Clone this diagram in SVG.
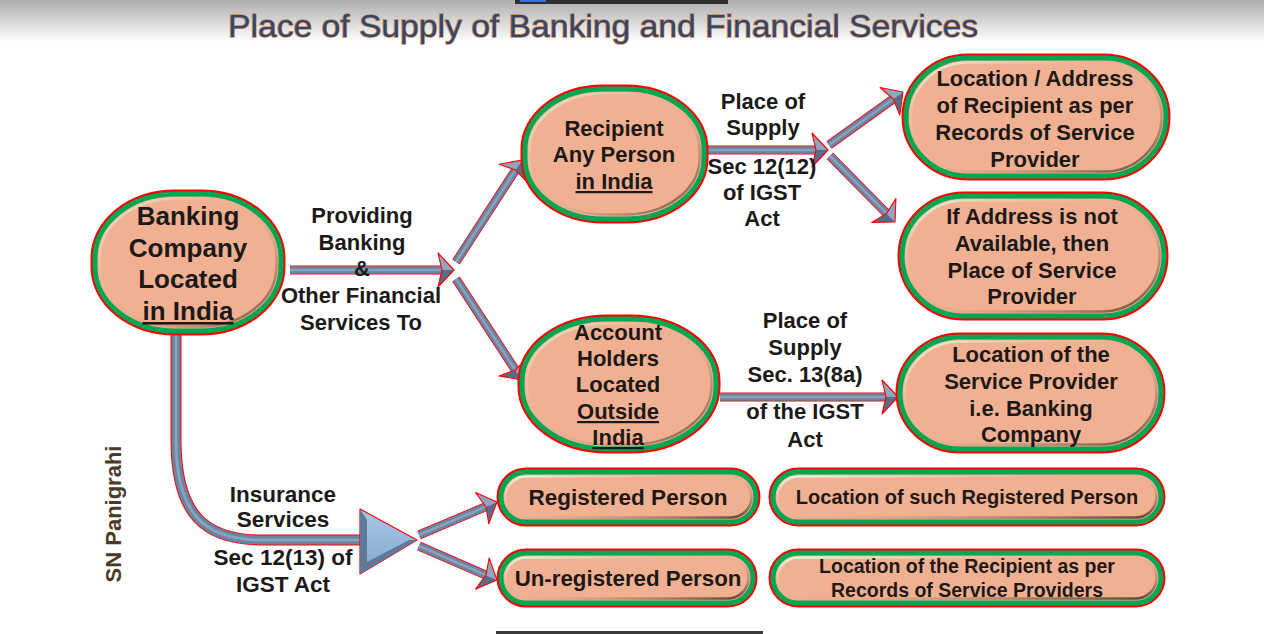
<svg xmlns="http://www.w3.org/2000/svg" width="1264" height="634" viewBox="0 0 1264 634">
<defs>
<style>
.t{font-family:"Liberation Sans",Arial,sans-serif;font-weight:bold;fill:#1c1a18;text-anchor:middle}
.r{fill:none;stroke:#ff0000;stroke-width:9}
.g{fill:#f2b092;stroke:#00a651;stroke-width:5}
.h{fill:none;stroke:url(#hl);stroke-width:2.5}
.sr{fill:none;stroke:#ff0000;stroke-width:9;stroke-linejoin:round}
.sb{fill:none;stroke:#6a83a0;stroke-width:7.5}
.sh{fill:none;stroke:#8aa1bb;stroke-width:2.5}
</style>
<linearGradient id="bg" x1="0" y1="0" x2="0" y2="1">
<stop offset="0" stop-color="#adadad"/>
<stop offset="1" stop-color="#ffffff"/>
</linearGradient>
<linearGradient id="hl" x1="0" y1="0" x2="1" y2="1">
<stop offset="0" stop-color="#d9ffe2"/>
<stop offset="0.45" stop-color="#f2b092" stop-opacity="0"/>
<stop offset="1" stop-color="#5a4232"/>
</linearGradient>
<linearGradient id="tri" x1="0" y1="0" x2="0" y2="1">
<stop offset="0" stop-color="#a9c8e7"/>
<stop offset="1" stop-color="#83a8cf"/>
</linearGradient>
<marker id="ah" markerUnits="userSpaceOnUse" viewBox="-20 -20 24 40" markerWidth="24" markerHeight="40" refX="-12" refY="0" orient="auto">
<path d="M0,0 L-16,-17 L-12,0 Z" fill="#8ea6c0"/>
<path d="M0,0 L-12,0 L-16,17 Z" fill="#566e8a"/>
<path d="M0,0 L-16,-17 L-12,0 L-16,17 Z" fill="none" stroke="#ff0000" stroke-width="1.1" stroke-linejoin="round"/>
</marker>
</defs>

<rect x="0" y="0" width="1264" height="634" fill="#ffffff"/>
<rect x="0" y="0" width="1264" height="42" fill="url(#bg)"/>
<rect x="515" y="0" width="213" height="4" fill="#2e2e2e"/>
<rect x="520" y="0" width="26" height="2" fill="#3b6fd6"/>
<rect x="496" y="631" width="267" height="3" fill="#3a3a3a"/>

<text x="603" y="37" font-family="Liberation Sans, Arial, sans-serif" font-size="32" fill="#34466a" stroke="#c98a58" stroke-width="1.4" paint-order="stroke" text-anchor="middle" textLength="750" lengthAdjust="spacingAndGlyphs">Place of Supply of Banking and Financial Services</text>

<g id="connectors">
<path class="sr" d="M290,270 L442,270"/><path class="sb" d="M290,270 L442,270"/><path class="sh" d="M290,270 L442,270" marker-end="url(#ah)"/>
<path class="sr" d="M456,262 L515.5,170.1"/><path class="sb" d="M456,262 L515.5,170.1"/><path class="sh" d="M456,262 L515.5,170.1" marker-end="url(#ah)"/>
<path class="sr" d="M456,279 L515.4,370"/><path class="sb" d="M456,279 L515.4,370"/><path class="sh" d="M456,279 L515.4,370" marker-end="url(#ah)"/>
<path class="sr" d="M708,150 L816,150"/><path class="sb" d="M708,150 L816,150"/><path class="sh" d="M708,150 L816,150" marker-end="url(#ah)"/>
<path class="sr" d="M829,145 L893.2,99"/><path class="sb" d="M829,145 L893.2,99"/><path class="sh" d="M829,145 L893.2,99" marker-end="url(#ah)"/>
<path class="sr" d="M830,156 L886.6,213.4"/><path class="sb" d="M830,156 L886.6,213.4"/><path class="sh" d="M830,156 L886.6,213.4" marker-end="url(#ah)"/>
<path class="sr" d="M720,397 L886,397"/><path class="sb" d="M720,397 L886,397"/><path class="sh" d="M720,397 L886,397" marker-end="url(#ah)"/>
<path d="M176,334 L176,440 C176,515 205,540 262,540 L362,540" fill="none" stroke="#ff0000" stroke-width="11"/>
<path d="M176,334 L176,440 C176,515 205,540 262,540 L362,540" fill="none" stroke="#6a83a0" stroke-width="9"/>
<path d="M176,334 L176,440 C176,515 205,540 262,540 L362,540" fill="none" stroke="#8aa1bb" stroke-width="3"/>
<polygon points="360,509 417,540 360,574" fill="url(#tri)" stroke="#ff0000" stroke-width="1.2" stroke-linejoin="round"/>
<polygon points="360,509 367,520 367,562 409,540 417,540 360,574" fill="#5f7a99"/>
<path class="sr" d="M419,535 L485.9,506.7"/><path class="sb" d="M419,535 L485.9,506.7"/><path class="sh" d="M419,535 L485.9,506.7" marker-end="url(#ah)"/>
<path class="sr" d="M419,546 L486,575.2"/><path class="sb" d="M419,546 L486,575.2"/><path class="sh" d="M419,546 L486,575.2" marker-end="url(#ah)"/>
</g>

<g id="node-banking">
<rect class="r" x="95" y="194" width="186" height="137" rx="80" ry="64"/>
<rect class="g" x="95" y="194" width="186" height="137" rx="80" ry="64"/>
<rect class="h" x="99.5" y="198.5" width="177" height="128" rx="76" ry="60"/>
<text class="t" font-size="26"><tspan x="188" y="225">Banking</tspan><tspan x="188" y="257">Company</tspan><tspan x="188" y="288">Located</tspan><tspan x="188" y="320" text-decoration="underline">in India</tspan></text>
</g>

<g id="node-recipient">
<rect class="r" x="525" y="89" width="179" height="130" rx="78" ry="60"/>
<rect class="g" x="525" y="89" width="179" height="130" rx="78" ry="60"/>
<rect class="h" x="529.5" y="93.5" width="170" height="121" rx="74" ry="56"/>
<text class="t" font-size="22"><tspan x="614" y="136">Recipient</tspan><tspan x="614" y="162">Any Person</tspan><tspan x="614" y="189" text-decoration="underline">in India</tspan></text>
</g>

<g id="node-account">
<rect class="r" x="522" y="319" width="194" height="130" rx="85" ry="62"/>
<rect class="g" x="522" y="319" width="194" height="130" rx="85" ry="62"/>
<rect class="h" x="526.5" y="323.5" width="185" height="121" rx="81" ry="58"/>
<text class="t" font-size="22"><tspan x="618" y="340">Account</tspan><tspan x="618" y="366">Holders</tspan><tspan x="618" y="392">Located</tspan><tspan x="618" y="419" text-decoration="underline">Outside</tspan><tspan x="618" y="445" text-decoration="underline">India</tspan></text>
</g>

<g id="node-location-address">
<rect class="r" x="906" y="58" width="260" height="118" rx="62" ry="59"/>
<rect class="g" x="906" y="58" width="260" height="118" rx="62" ry="59"/>
<rect class="h" x="910.5" y="62.5" width="251" height="109" rx="58" ry="55"/>
<text class="t" font-size="22"><tspan x="1035" y="86">Location / Address</tspan><tspan x="1035" y="113">of Recipient as per</tspan><tspan x="1035" y="140">Records of Service</tspan><tspan x="1035" y="167">Provider</tspan></text>
</g>

<g id="node-if-address">
<rect class="r" x="902" y="196" width="262" height="120" rx="62" ry="60"/>
<rect class="g" x="902" y="196" width="262" height="120" rx="62" ry="60"/>
<rect class="h" x="906.5" y="200.5" width="253" height="111" rx="58" ry="56"/>
<text class="t" font-size="22"><tspan x="1032" y="224">If Address is not</tspan><tspan x="1032" y="251">Available, then</tspan><tspan x="1032" y="278">Place of Service</tspan><tspan x="1032" y="304">Provider</tspan></text>
</g>

<g id="node-service-provider">
<rect class="r" x="900" y="337" width="261" height="112" rx="60" ry="56"/>
<rect class="g" x="900" y="337" width="261" height="112" rx="60" ry="56"/>
<rect class="h" x="904.5" y="341.5" width="252" height="103" rx="56" ry="52"/>
<text class="t" font-size="22"><tspan x="1031" y="362">Location of the</tspan><tspan x="1031" y="389">Service Provider</tspan><tspan x="1031" y="416">i.e. Banking</tspan><tspan x="1031" y="442">Company</tspan></text>
</g>

<g id="node-registered">
<rect class="r" x="501" y="472" width="255" height="50" rx="25" ry="25"/>
<rect class="g" x="501" y="472" width="255" height="50" rx="25" ry="25"/>
<rect class="h" x="505.5" y="476.5" width="246" height="41" rx="21" ry="21"/>
<text class="t" x="628" y="505" font-size="22.5">Registered Person</text>
</g>

<g id="node-loc-registered">
<rect class="r" x="773" y="472" width="388" height="50" rx="25" ry="25"/>
<rect class="g" x="773" y="472" width="388" height="50" rx="25" ry="25"/>
<rect class="h" x="777.5" y="476.5" width="379" height="41" rx="21" ry="21"/>
<text class="t" x="967" y="504" font-size="20">Location of such Registered Person</text>
</g>

<g id="node-unregistered">
<rect class="r" x="501" y="553" width="252" height="50" rx="25" ry="25"/>
<rect class="g" x="501" y="553" width="252" height="50" rx="25" ry="25"/>
<rect class="h" x="505.5" y="557.5" width="243" height="41" rx="21" ry="21"/>
<text class="t" x="628" y="586" font-size="22.3">Un-registered Person</text>
</g>

<g id="node-loc-recipient">
<rect class="r" x="773" y="553" width="388" height="50" rx="25" ry="25"/>
<rect class="g" x="773" y="553" width="388" height="50" rx="25" ry="25"/>
<rect class="h" x="777.5" y="557.5" width="379" height="41" rx="21" ry="21"/>
<text class="t" font-size="19.5"><tspan x="967" y="573">Location of the Recipient as per</tspan><tspan x="967" y="597">Records of Service Providers</tspan></text>
</g>

<g id="labels">
<text class="t" font-size="22"><tspan x="362" y="223">Providing</tspan><tspan x="362" y="250">Banking</tspan><tspan x="362" y="276">&amp;</tspan><tspan x="361" y="303">Other Financial</tspan><tspan x="361" y="330">Services To</tspan></text>
<text class="t" font-size="22"><tspan x="763" y="109">Place of</tspan><tspan x="763" y="135">Supply</tspan><tspan x="762" y="174">Sec 12(12)</tspan><tspan x="762" y="200">of IGST</tspan><tspan x="762" y="226">Act</tspan></text>
<text class="t" font-size="22"><tspan x="805" y="328">Place of</tspan><tspan x="805" y="355">Supply</tspan><tspan x="805" y="382">Sec. 13(8a)</tspan><tspan x="805" y="419">of the IGST</tspan><tspan x="805" y="447">Act</tspan></text>
<text class="t" font-size="22.5"><tspan x="283" y="502">Insurance</tspan><tspan x="283" y="527">Services</tspan><tspan x="283" y="565">Sec 12(13) of</tspan><tspan x="283" y="592">IGST Act</tspan></text>
<text class="t" font-size="22" style="fill:#4b3a26" transform="translate(121,514) rotate(-90)" x="0" y="0">SN Panigrahi</text>
</g>
</svg>
